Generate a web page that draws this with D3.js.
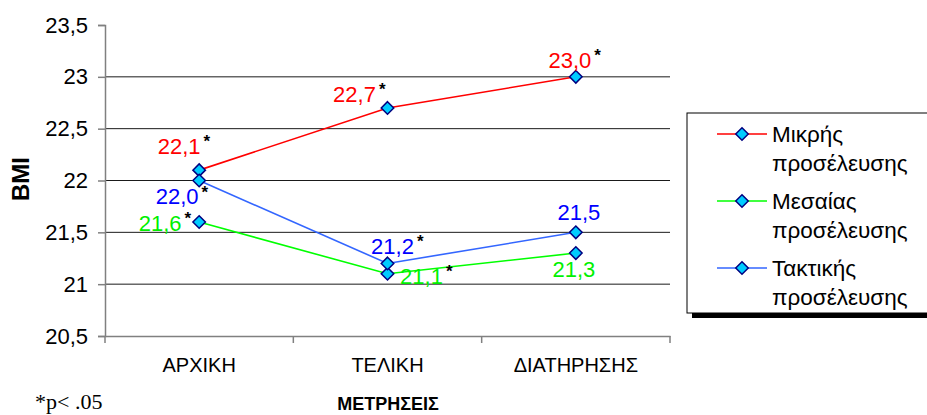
<!DOCTYPE html>
<html>
<head>
<meta charset="utf-8">
<script src="https://cdn.jsdelivr.net/npm/d3@7"></script>
<style>
  html, body { margin: 0; padding: 0; background: #fff; }
  svg { display: block; }
</style>
</head>
<body>
<svg id="chart" width="927" height="415"></svg>
<script>
// Measurement occasions (x categories)
const categories = ["ΑΡΧΙΚΗ", "ΤΕΛΙΚΗ", "ΔΙΑΤΗΡΗΣΗΣ"];

// Group names for the legend
const seriesNames = ["Μικρής προσέλευσης", "Μεσαίας προσέλευσης", "Τακτικής προσέλευσης"];

// Mean BMI per group at each measurement
const lowAttendance = [22.1, 22.7, 23.0];
const midAttendance = [21.6, 21.1, 21.3];
const regularAttendance = [22.0, 21.2, 21.5];

// Significant change marks (p < .05)
const lowSig = [true, true, true];
const midSig = [true, true, false];
const regularSig = [true, true, false];

// Y axis ticks
const yTicks = [20.5, 21, 21.5, 22, 22.5, 23, 23.5];

// Label placement relative to each point: [dx, dy] of the label centre
const lowLabelPos = [[-20, -24], [-33, -14], [-6, -17]];
const midLabelPos = [[-39, 1], [34, 2], [-2, 16]];
const regularLabelPos = [[-22, 16], [5, -17], [3, -20]];

const series = [
  { name: seriesNames[0], values: lowAttendance, sig: lowSig, pos: lowLabelPos, line: "#ff0000", text: "#ff0000" },
  { name: seriesNames[1], values: midAttendance, sig: midSig, pos: midLabelPos, line: "#00ff00", text: "#00f000" },
  { name: seriesNames[2], values: regularAttendance, sig: regularSig, pos: regularLabelPos, line: "#3366ff", text: "#0000ff" }
];

const svg = d3.select("#chart");
const plot = { left: 105, right: 670, top: 25, bottom: 336 };
const font = "Arial, 'Liberation Sans', sans-serif";

const x = d3.scaleBand().domain(categories).range([plot.left, plot.right]);
const y = d3.scaleLinear().domain([20.5, 23.5]).range([plot.bottom, plot.top]);
const cx = c => x(c) + x.bandwidth() / 2;

// Horizontal gridlines
svg.append("g")
  .selectAll("line")
  .data(yTicks.filter(t => t > 20.5 && t < 23.5))
  .join("line")
  .attr("x1", plot.left).attr("x2", plot.right)
  .attr("y1", d => y(d)).attr("y2", d => y(d))
  .attr("stroke", "#1a1a1a").attr("stroke-width", 1);

// Y axis
const yAxis = svg.append("g")
  .attr("transform", `translate(${plot.left},0)`)
  .call(d3.axisLeft(y).tickValues(yTicks).tickSize(7).tickPadding(10)
    .tickFormat(d => d3.format("")(d).replace(".", ",")));
yAxis.select(".domain").attr("stroke", "#808080").attr("stroke-width", 1.5);
yAxis.selectAll(".tick line").attr("stroke", "#808080").attr("stroke-width", 1.5);
yAxis.selectAll(".tick text")
  .attr("font-family", font).attr("font-size", 22).attr("fill", "#000");

// X axis with tick marks at band boundaries
const xAxis = svg.append("g")
  .attr("transform", `translate(0,${plot.bottom})`)
  .call(d3.axisBottom(x).tickSize(0).tickPadding(22));
xAxis.select(".domain").attr("stroke", "#808080").attr("stroke-width", 1.5);
xAxis.selectAll(".tick text")
  .attr("font-family", font).attr("font-size", 20).attr("fill", "#000");
const bounds = categories.map(c => x(c)).concat([plot.right]);
xAxis.selectAll("line.sep")
  .data(bounds)
  .join("line")
  .attr("class", "sep")
  .attr("x1", d => d).attr("x2", d => d)
  .attr("y1", 0).attr("y2", 7)
  .attr("stroke", "#808080").attr("stroke-width", 1.5);

// Axis titles
svg.append("text")
  .attr("transform", "translate(29,179) rotate(-90)")
  .attr("text-anchor", "middle")
  .attr("font-family", font).attr("font-weight", "bold").attr("font-size", 24)
  .text("BMI");

svg.append("text")
  .attr("x", 388).attr("y", 410)
  .attr("text-anchor", "middle")
  .attr("font-family", font).attr("font-weight", "bold").attr("font-size", 18)
  .text("ΜΕΤΡΗΣΕΙΣ");

svg.append("text")
  .attr("x", 35).attr("y", 409)
  .attr("font-family", "'Liberation Serif', 'Times New Roman', serif").attr("font-size", 22)
  .text("*p< .05");

// Diamond marker
const diamond = d3.symbol().type(d3.symbolDiamond2).size(100);

// Lines and markers
const line = d3.line().x((d, i) => cx(categories[i])).y(d => y(d));
series.forEach(s => {
  svg.append("path")
    .datum(s.values)
    .attr("d", line)
    .attr("fill", "none")
    .attr("stroke", s.line)
    .attr("stroke-width", 1.6);
});
series.forEach(s => {
  svg.append("g")
    .selectAll("path")
    .data(s.values)
    .join("path")
    .attr("d", diamond)
    .attr("transform", (d, i) => `translate(${cx(categories[i])},${y(d)})`)
    .attr("fill", "#00ccff")
    .attr("stroke", "#000080")
    .attr("stroke-width", 1.5);
});

// Value labels with significance stars
const fmt = v => v.toFixed(1).replace(".", ",");
series.forEach(s => {
  s.values.forEach((v, i) => {
    const px = cx(categories[i]) + s.pos[i][0];
    const py = y(v) + s.pos[i][1];
    const t = svg.append("text")
      .attr("x", px).attr("y", py)
      .attr("dy", "0.35em")
      .attr("text-anchor", "middle")
      .attr("font-family", font).attr("font-size", 22)
      .attr("fill", s.text)
      .text(fmt(v));
    if (s.sig[i]) {
      const w = t.node().getComputedTextLength();
      svg.append("text")
        .attr("x", px + w / 2 + 3).attr("y", py + 1)
        .attr("font-family", font).attr("font-weight", "bold").attr("font-size", 17)
        .attr("fill", "#000")
        .text("*");
    }
  });
});

// Legend with drop shadow
const lg = svg.append("g");
lg.append("rect")
  .attr("x", 692).attr("y", 118).attr("width", 260).attr("height", 200)
  .attr("fill", "#000");
lg.append("rect")
  .attr("x", 687).attr("y", 113).attr("width", 260).attr("height", 200)
  .attr("fill", "#fff").attr("stroke", "#000").attr("stroke-width", 1);

series.forEach((s, i) => {
  const ly = 134 + i * 67;
  const words = s.name.split(" ");
  lg.append("line")
    .attr("x1", 717).attr("x2", 767).attr("y1", ly).attr("y2", ly)
    .attr("stroke", s.line).attr("stroke-width", 1.6);
  lg.append("path")
    .attr("d", diamond)
    .attr("transform", `translate(742,${ly})`)
    .attr("fill", "#00ccff").attr("stroke", "#000080").attr("stroke-width", 1.5);
  const txt = lg.append("text")
    .attr("font-family", font).attr("font-size", 22.5).attr("fill", "#000");
  words.forEach((w, j) => {
    txt.append("tspan")
      .attr("x", 772).attr("y", ly + j * 29).attr("dy", "0.35em")
      .text(w);
  });
});
</script>
</body>
</html>
